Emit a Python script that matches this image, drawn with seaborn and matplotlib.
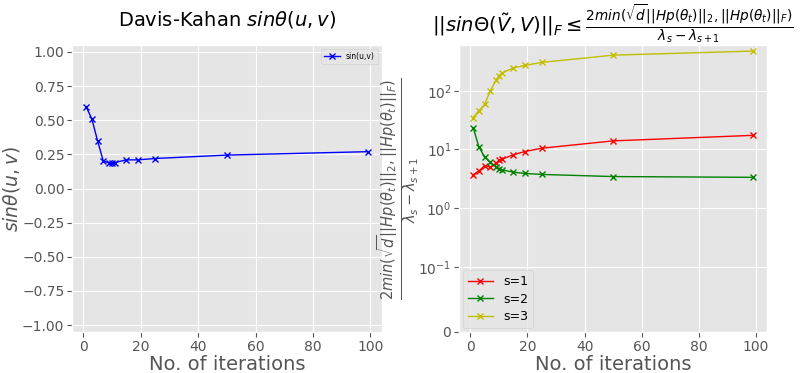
import matplotlib
matplotlib.use("Agg")
import matplotlib.pyplot as plt
import seaborn as sns
import numpy as np

plt.style.use("ggplot")

# data
iters = [1, 3, 5, 7, 9, 10, 11, 15, 19, 25, 50, 99]
sin_uv = [0.60, 0.51, 0.35, 0.20, 0.19, 0.19, 0.19, 0.21, 0.21, 0.22, 0.245, 0.27]
bound_s1 = [3.7, 4.3, 5.3, 5.0, 5.8, 6.6, 6.8, 8.1, 9.2, 10.5, 14.0, 17.4]
bound_s2 = [23.5, 11.0, 7.5, 6.0, 5.1, 4.6, 4.5, 4.1, 3.9, 3.75, 3.45, 3.35]
bound_s3 = [35, 46, 59, 100, 150, 180, 200, 245, 270, 305, 405, 475]
left_yticks = [-1.0, -0.75, -0.5, -0.25, 0.0, 0.25, 0.5, 0.75, 1.0]
right_series = [("s=1", bound_s1, "r"), ("s=2", bound_s2, "g"), ("s=3", bound_s3, "y")]

fig = plt.figure(figsize=(8.0, 3.73), dpi=100)
ax1 = fig.add_axes([0.09, 0.11, 0.387, 0.769])
ax2 = fig.add_axes([0.574, 0.11, 0.385, 0.769])

sns.lineplot(x=iters, y=sin_uv, ax=ax1, color="b", marker="x", markersize=4,
             mec="b", mew=1, linewidth=1, label="sin(u,v)")
ax1.set_ylim(-1.05, 1.05)
ax1.set_yticks(left_yticks)
ax1.set_title(r"Davis-Kahan $sin\theta(u,v)$", fontsize=14, pad=14, color="black")
ax1.set_ylabel(r"$sin\theta(u,v)$", fontsize=13.5, labelpad=0)
ax1.set_xlabel("No. of iterations", fontsize=14, labelpad=1)
ax1.legend(loc="upper right", fontsize=5.5)
ax1.tick_params(labelsize=10, pad=2)

for lab, vals, col in right_series:
    sns.lineplot(x=iters, y=vals, ax=ax2, color=col, marker="x", markersize=4,
                 mec=col, mew=1, linewidth=1, label=lab)
ax2.set_yscale("symlog", linthresh=0.1)
ax2.set_ylim(0, 600)
ax2.set_title(r"$||sin\Theta(\tilde{V},V)||_F \leq \frac{2min(\sqrt{d}||Hp(\theta_t)||_2, ||Hp(\theta_t)||_F)}{\lambda_s-\lambda_{s+1}}$",
              fontsize=14, pad=8, color="black")
ax2.set_ylabel(r"$\frac{2min(\sqrt{d}||Hp(\theta_t)||_2, ||Hp(\theta_t)||_F)}{\lambda_s-\lambda_{s+1}}$",
               fontsize=15, labelpad=-2)
ax2.set_xlabel("No. of iterations", fontsize=14, labelpad=1)
ax2.legend(loc="lower left", fontsize=9, labelspacing=0.35, borderaxespad=0.3)
ax2.tick_params(labelsize=10, pad=2)
ax2.minorticks_off()

for ax in (ax1, ax2):
    ax.set_xticks([0, 20, 40, 60, 80, 100])

fig.savefig("out.png", dpi=100)
